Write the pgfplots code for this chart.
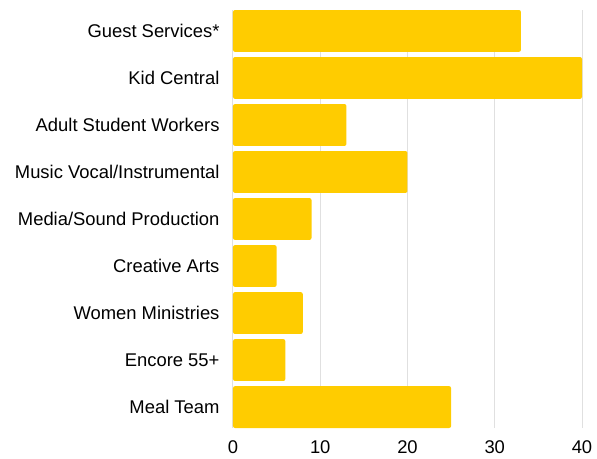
\documentclass[border=0pt]{standalone}
\usepackage{pgfplots}
\pgfplotsset{compat=1.18}
\usepackage{fontspec}
\setmainfont{Liberation Sans}
\definecolor{gold}{HTML}{FFCC00}
\definecolor{gridgray}{HTML}{E0E0E0}

\begin{document}
\begin{tikzpicture}
\useasboundingbox (-233pt,-30pt) rectangle (364pt,428pt);
\begin{axis}[
    scale only axis,
    width=349pt, height=418pt,
    anchor=south west, at={(0,0)},
    xbar, bar width=0.89,
    y dir=reverse,
    xmin=0, xmax=40,
    ymin=-0.445, ymax=8.445,
    xtick={0,10,20,30,40},
    ytick={0,1,...,8},
    yticklabels={Guest Services*, Kid Central, Adult Student Workers,
        Music Vocal/Instrumental, Media/Sound Production, Creative Arts,
        Women Ministries, Encore 55+, Meal Team},
    xmajorgrids,
    grid style={gridgray, line width=1pt},
    axis line style={draw=none},
    major tick length=0pt,
    tick style={draw=none},
    font=\fontsize{18.4}{21}\selectfont,
    /pgf/number format/assume math mode=true,
    xticklabel style={yshift=-9pt},
    yticklabel style={xshift=-10pt},
    clip=false,
]
\addplot[draw=none, fill=gold, rounded corners=2pt] coordinates {
    (33,0) (40,1) (13,2) (20,3) (9,4) (5,5) (8,6) (6,7) (25,8)
};
\end{axis}
\end{tikzpicture}
\end{document}
